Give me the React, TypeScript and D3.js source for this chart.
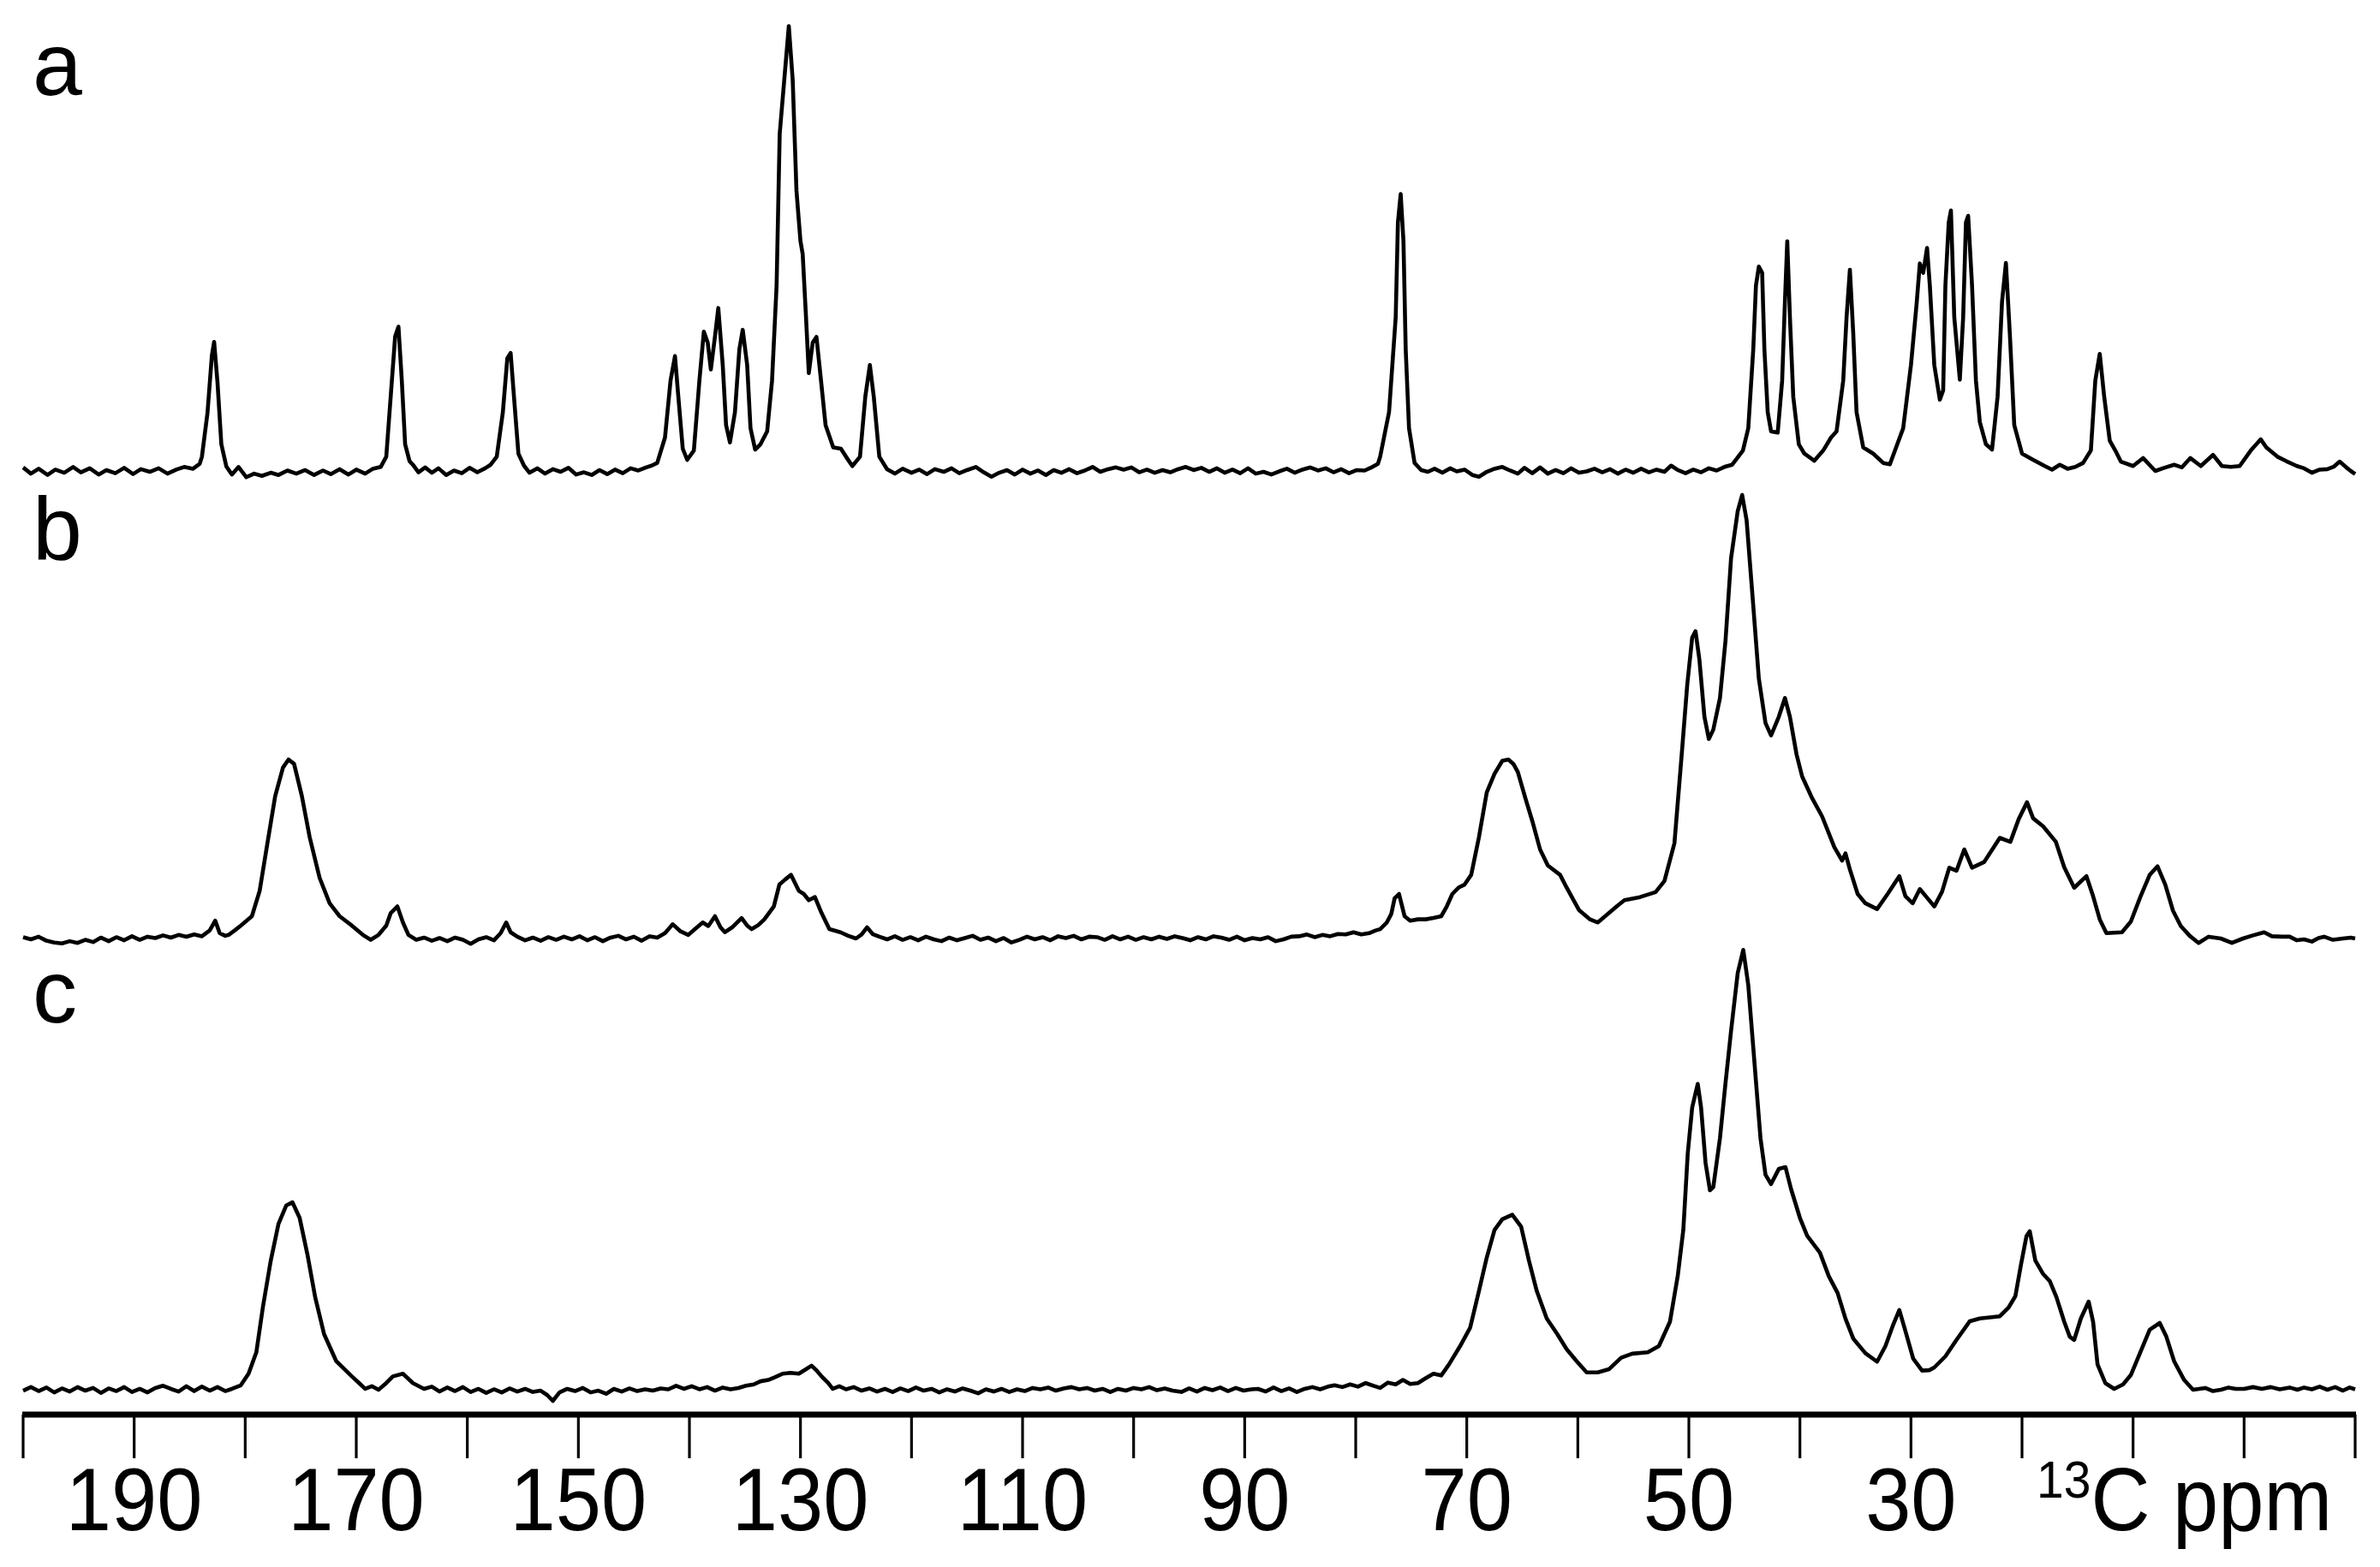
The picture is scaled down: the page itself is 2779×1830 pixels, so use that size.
import React from 'react';
import * as d3 from 'd3';

// 13C spectra, [ppm, intensity] (tallest peak of each trace ~100)
const spectrumA: [number, number][] = [
  [200.0, 0.8], [199.3, -0.6], [198.6, 0.5], [197.8, -0.9], [197.1, 0.3], [196.3, -0.4], [195.5, 0.9], [194.8, -0.3],
  [194.0, 0.6], [193.2, -0.8], [192.5, 0.2], [191.7, -0.5], [190.9, 0.7], [190.1, -0.7], [189.4, 0.4], [188.6, -0.2],
  [187.8, 0.6], [187.0, -0.6], [186.2, 0.3], [185.5, 0.9], [184.7, 0.5], [184.1, 1.6],
  [183.9, 3.2], [183.4, 13], [183.0, 26], [182.8, 29], [182.5, 20], [182.15, 6], [181.7, 1], [181.2, -0.8],
  [180.6, 0.9], [179.9, -1.4], [179.2, -0.6], [178.5, -1.1], [177.7, -0.4], [177.0, -0.9], [176.2, 0.1], [175.4, -0.6],
  [174.6, 0.2], [173.8, -0.9], [173.0, 0.1], [172.3, -0.7], [171.5, 0.4], [170.7, -0.8], [170.0, 0.3], [169.2, -0.6],
  [168.5, 0.5], [167.8, 0.9],
  [167.3, 3.2], [166.9, 16.7], [166.5, 30.2], [166.2, 32.4], [165.9, 20.3], [165.6, 6], [165.2, 2.2], [164.9, 1.4],
  [164.4, -0.3], [163.8, 0.8], [163.2, -0.4], [162.6, 0.6], [161.9, -0.9], [161.2, 0.1], [160.5, -0.5], [159.8, 0.7],
  [159.1, -0.3], [158.4, 0.6], [157.9, 1.4],
  [157.35, 3.2], [156.8, 13.2], [156.4, 25.3], [156.1, 26.5], [155.8, 16.7], [155.4, 3.9], [154.9, 1.2], [154.4, -0.4],
  [153.7, 0.6], [153.0, -0.6], [152.3, 0.4], [151.6, -0.2], [150.9, 0.7], [150.2, -0.8], [149.5, -0.3], [148.8, -0.9],
  [148.1, 0.2], [147.4, -0.7], [146.7, 0.3], [146.0, -0.5], [145.3, 0.6], [144.6, 0.1], [143.9, 0.8], [143.4, 1.2],
  [142.9, 1.8], [142.2, 7.5], [141.7, 20.3], [141.3, 25.8], [141.0, 16.7], [140.6, 5], [140.2, 2.5], [139.6, 4.6],
  [139.1, 20.3], [138.7, 31.3], [138.35, 28.8], [138.07, 22.8], [137.7, 30.2], [137.4, 36.6], [137.0, 23.8],
  [136.7, 10.3], [136.35, 6.4], [135.9, 13.2], [135.5, 27.4], [135.2, 31.7], [134.8, 23.8], [134.5, 9.6],
  [134.08, 4.8], [133.6, 6], [133.0, 8.9], [132.56, 20.3], [132.15, 41.6], [131.87, 75.7], [131.46, 87.8],
  [131.05, 99.9], [130.7, 87.8], [130.36, 62.9], [130.0, 51.6], [129.8, 48.7], [129.5, 34.5], [129.25, 22],
  [128.9, 28.8], [128.56, 30.1], [128.15, 20.3], [127.74, 10.3], [127.05, 5.3], [126.36, 5], [125.9, 3.2],
  [125.33, 1.1], [124.64, 3.2], [124.16, 16.7], [123.75, 23.8], [123.4, 16.7], [122.9, 3.2], [122.2, 0.4],
  [121.5, -0.6], [120.8, 0.5], [120.0, -0.4], [119.3, 0.3], [118.6, -0.7], [117.9, 0.4], [117.1, -0.2], [116.4, 0.6],
  [115.7, -0.5], [115.0, 0.2], [114.2, 0.9], [113.5, -0.3], [112.8, -1.3], [112.1, -0.4], [111.4, 0.2], [110.7, -0.8],
  [110.0, 0.3], [109.3, -0.6], [108.6, 0.1], [107.9, -0.9], [107.2, 0.2], [106.5, -0.4], [105.8, 0.4], [105.1, -0.5],
  [104.4, 0.1], [103.7, 0.9], [103.0, -0.2], [102.3, 0.4], [101.6, 0.8], [100.9, 0.3], [100.2, 0.8], [99.5, -0.3],
  [98.8, 0.3], [98.1, -0.4], [97.4, 0.2], [96.7, -0.3], [96.0, 0.4], [95.3, 0.9], [94.6, 0.2], [93.9, 0.7],
  [93.2, -0.2], [92.5, 0.6], [91.8, -0.4], [91.1, 0.3], [90.4, -0.5], [89.7, 0.6], [89.0, -0.6], [88.3, -0.2],
  [87.6, -0.8], [86.9, -0.1], [86.2, 0.5], [85.5, -0.4], [84.8, 0.3], [84.1, 0.8], [83.4, 0.1], [82.7, 0.6],
  [82.0, -0.3], [81.3, 0.4], [80.6, -0.5], [79.9, 0.2], [79.2, 0.1], [78.5, 0.9], [78.0, 1.6],
  [77.8, 3.2], [77.0, 13.2], [76.4, 34.5], [76.2, 55.8], [75.95, 62.2], [75.7, 51.6], [75.5, 27.4], [75.2, 9.6],
  [74.7, 1.8], [74.1, 0.2], [73.5, -0.2], [72.9, 0.5], [72.2, -0.4], [71.5, 0.6], [70.9, -0.1], [70.2, 0.3],
  [69.5, -0.9], [68.9, -1.3], [68.2, -0.2], [67.5, 0.5], [66.8, 0.9], [66.1, 0.1], [65.4, -0.6], [64.8, 0.7],
  [64.1, -0.5], [63.4, 0.8], [62.7, -0.6], [62.0, 0.2], [61.3, -0.5], [60.6, 0.6], [59.9, -0.4], [59.2, -0.1],
  [58.5, 0.5], [57.8, -0.3], [57.1, 0.4], [56.4, -0.6], [55.7, 0.3], [55.0, -0.4], [54.3, 0.5], [53.6, -0.3],
  [52.9, 0.3], [52.2, -0.2], [51.6, 1.2], [51.0, 0.2], [50.3, -0.5], [49.6, 0.3], [48.9, -0.3], [48.2, 0.6],
  [47.5, 0.1], [46.8, 0.9], [46.1, 1.4],
  [45.13, 4.6], [44.65, 9.6], [44.2, 27.4], [43.96, 41.6], [43.7, 45.9], [43.4, 44.5], [43.2, 27.4], [42.9, 13.2],
  [42.6, 8.9], [42.0, 8.6], [41.6, 20.3], [41.35, 38], [41.14, 51.6], [40.9, 34.5], [40.6, 16.7], [40.1, 6],
  [39.6, 3.9], [38.7, 2.3], [37.9, 4.6], [37.2, 7.5], [36.7, 8.9], [36.1, 20.3], [35.8, 34.5], [35.5, 45.2],
  [35.2, 31], [34.9, 13.2], [34.3, 5.3], [33.4, 3.9], [32.5, 1.8], [31.9, 1.5], [30.7, 9.6], [30.0, 23.8],
  [29.5, 37.3], [29.2, 46.6], [28.9, 44.5], [28.55, 50.1], [28.3, 41.6], [27.9, 23.8], [27.4, 16], [27.1, 18.1],
  [26.9, 41.6], [26.6, 55.8], [26.4, 58.5], [26.1, 34.5], [25.6, 20.5], [25.3, 34.5], [25.05, 55.8], [24.85, 57.3],
  [24.5, 41.6], [24.15, 20.3], [23.8, 11], [23.25, 6], [22.7, 4.8], [22.2, 16.7], [21.8, 38], [21.45, 46.7],
  [21.1, 31], [20.7, 10.3], [20.0, 3.9], [19.0, 2.5], [17.95, 1.1], [17.3, 0.3], [16.6, 1.4], [15.9, 0.5],
  [15.2, 0.9], [14.5, 1.8], [13.8, 4.6], [13.4, 20.3], [13.0, 26.3], [12.6, 16.7], [12.1, 6.8], [11.6, 4.6],
  [11.1, 2.1], [10.0, 1.1], [9.1, 2.9], [8.0, 0], [7.2, 0.7], [6.3, 1.4], [5.6, 0.8], [4.85, 2.9], [3.9, 1.1],
  [2.8, 3.6], [2.0, 1.1], [1.2, 0.9], [0.4, 1.1], [-0.6, 4.6], [-1.5, 7.1], [-2.0, 5.3], [-3.0, 3.2], [-3.8, 2.2],
  [-4.75, 1.1], [-5.4, 0.6], [-6.1, -0.4], [-6.8, 0.3], [-7.5, 0.4], [-8.1, 1.0], [-8.6, 2.1], [-9.2, 0.8],
  [-9.6, 0], [-10.0, -0.7],
];

const spectrumB: [number, number][] = [
  [200.0, 0.3], [199.3, -0.2], [198.6, 0.4], [197.9, -0.5], [197.2, -0.9], [196.5, -1.1], [195.8, -0.6], [195.1, -1.0],
  [194.4, -0.3], [193.7, -0.8], [193.0, 0.2], [192.3, -0.6], [191.6, 0.3], [190.9, -0.4], [190.2, 0.5], [189.5, -0.3],
  [188.8, 0.4], [188.1, 0.1], [187.4, 0.7], [186.7, 0.2], [186.0, 0.8], [185.3, 0.4], [184.6, 0.9], [183.9, 0.5],
  [183.2, 1.8], [182.7, 4], [182.3, 1.2], [181.8, 0.6], [181.5, 0.8], [180.9, 1.9], [180.4, 2.9], [179.4, 5],
  [178.7, 10.7], [178.0, 21.4], [177.3, 32], [176.6, 38.4], [176.1, 40.2], [175.6, 39.2], [174.9, 32], [174.2, 22.8],
  [173.3, 13.6], [172.4, 7.9], [171.5, 5], [170.4, 2.9], [169.4, 0.8], [168.7, -0.3], [168.0, 0.8], [167.3, 2.9],
  [166.9, 5.7], [166.3, 7.2], [165.8, 3.6], [165.3, 0.8], [164.6, -0.3], [163.9, 0.2], [163.2, -0.5], [162.5, 0.1],
  [161.8, -0.6], [161.1, 0.2], [160.4, -0.3], [159.7, -1.2], [159.0, -0.2], [158.3, 0.3], [157.6, -0.4], [157.0, 1.2],
  [156.5, 3.6], [156.1, 1.4], [155.5, 0.4], [154.8, -0.4], [154.1, 0.2], [153.4, -0.5], [152.7, 0.3], [152.0, -0.3],
  [151.3, 0.4], [150.6, -0.2], [149.9, 0.5], [149.2, -0.4], [148.5, 0.3], [147.8, -0.6], [147.1, 0.2], [146.4, 0.6],
  [145.7, -0.2], [145.0, 0.4], [144.3, -0.5], [143.6, 0.5], [142.9, 0.2], [142.2, 1.2], [141.5, 3.2], [140.8, 1.6],
  [140.1, 0.8], [139.5, 2.1], [138.8, 3.6], [138.3, 2.8], [137.7, 5], [137.2, 2.5], [136.8, 1.4], [136.1, 2.6],
  [135.3, 4.6], [134.8, 2.9], [134.4, 2.1], [133.8, 3.0], [133.25, 4.3], [132.4, 7.2], [131.9, 12.1], [131.4, 13.2],
  [130.85, 14.3], [130.5, 12.5], [130.15, 10.7], [129.7, 10], [129.25, 8.6], [128.7, 9.3], [128.1, 5.7], [127.4, 2.1],
  [126.4, 1.4], [125.7, 0.6], [125.0, 0], [124.5, 0.9], [124.0, 2.5], [123.5, 1.0], [122.9, 0.4], [122.2, -0.2],
  [121.5, 0.5], [120.8, -0.3], [120.1, 0.3], [119.4, -0.4], [118.7, 0.4], [118.0, -0.2], [117.3, -0.6], [116.6, 0.2],
  [115.9, -0.4], [115.2, 0.1], [114.5, 0.6], [113.8, -0.3], [113.1, 0.2], [112.4, -0.6], [111.7, 0.1], [111.0, -0.9],
  [110.3, -0.3], [109.6, 0.4], [108.9, -0.2], [108.2, 0.3], [107.5, -0.4], [106.8, 0.5], [106.1, 0.1], [105.4, 0.6],
  [104.7, -0.2], [104.0, 0.4], [103.3, 0.3], [102.6, -0.3], [101.9, 0.5], [101.2, -0.2], [100.5, 0.4], [99.8, -0.3],
  [99.1, 0.3], [98.4, -0.2], [97.7, 0.4], [97.0, -0.1], [96.3, 0.5], [95.6, 0.1], [94.9, -0.4], [94.2, 0.3],
  [93.5, -0.2], [92.8, 0.5], [92.1, 0.2], [91.4, -0.3], [90.7, 0.4], [90.0, -0.4], [89.3, 0.1], [88.6, -0.2],
  [87.9, 0.3], [87.2, -0.6], [86.5, -0.2], [85.8, 0.4], [85.1, 0.5], [84.4, 0.9], [83.7, 0.3], [83.0, 0.8],
  [82.3, 0.5], [81.6, 1.0], [80.9, 0.9], [80.2, 1.4], [79.5, 0.9], [78.8, 1.2], [78.2, 1.8], [77.8, 2.1],
  [77.2, 3.6], [76.8, 5.5], [76.5, 9.0], [76.1, 10], [75.8, 7.0], [75.6, 5], [75.1, 4], [74.4, 4.3], [73.7, 4.3],
  [73.0, 4.6], [72.3, 5], [71.8, 7.2], [71.3, 10], [70.7, 11.5], [70.2, 12.1], [69.6, 14.3], [68.9, 22.8],
  [68.2, 32.8], [67.5, 37], [66.8, 39.9], [66.25, 40.2], [65.8, 39.2], [65.4, 37.4], [64.7, 31.3], [64.1, 26.4],
  [63.4, 20], [62.7, 16.4], [61.6, 14.3], [61.0, 11.4], [59.9, 6.4], [58.9, 4.3], [58.2, 3.6], [57.2, 5.7],
  [56.5, 7.2], [55.8, 8.6], [54.4, 9.3], [53.0, 10.4], [52.2, 12.9], [51.3, 21.4], [50.6, 42.7], [50.15, 56.9],
  [49.7, 67.6], [49.4, 69], [49.05, 62.6], [48.6, 49.8], [48.2, 44.8], [47.8, 46.9], [47.2, 54], [46.7, 66.9],
  [46.2, 85.4], [45.6, 96], [45.2, 99.6], [44.8, 93.9], [44.2, 74.7], [43.7, 58.4], [43.1, 48.4], [42.6, 45.6],
  [41.9, 49.8], [41.35, 54], [40.9, 49.8], [40.3, 41.3], [39.8, 36.4], [38.9, 31.5], [38.0, 27.4], [36.9, 20.5],
  [36.2, 17.5], [35.9, 19.1], [35.5, 15.5], [34.8, 10], [34.1, 7.9], [33.05, 6.6], [32.1, 10], [31.05, 14],
  [30.5, 9.5], [29.85, 7.9], [29.2, 11.1], [28.6, 9.3], [27.9, 7.2], [27.2, 10.5], [26.55, 15.9], [25.9, 15.2],
  [25.2, 20], [24.5, 15.9], [23.4, 17.2], [22.0, 22.6], [21.05, 21.7], [20.3, 26.8], [19.55, 30.6], [19.0, 27],
  [18.1, 25.2], [16.95, 21.7], [16.2, 16], [15.3, 11.4], [14.2, 14], [13.6, 9.5], [13.0, 4.3], [12.4, 1.2],
  [11.0, 1.4], [10.2, 3.8], [9.35, 9.3], [8.5, 14.3], [7.8, 16.2], [7.1, 12.1], [6.4, 6.2], [5.7, 2.8],
  [4.9, 0.6], [4.1, -1.0], [3.2, 0.4], [2.1, 0], [1.1, -1.0], [0.1, 0], [-0.8, 0.7], [-1.8, 1.4], [-2.5, 0.5],
  [-3.4, 0.4], [-4.1, 0.4], [-4.75, -0.4], [-5.4, -0.2], [-6.1, -0.7], [-6.7, 0.1], [-7.2, 0.4], [-8.0, -0.3],
  [-8.9, 0], [-9.6, 0.2], [-10.0, 0],
];

const spectrumC: [number, number][] = [
  [200.0, -0.2], [199.3, 0.6], [198.6, -0.3], [197.9, 0.5], [197.2, -0.6], [196.5, 0.3], [195.8, -0.4], [195.1, 0.6],
  [194.4, -0.2], [193.7, 0.4], [193.0, -0.7], [192.3, 0.3], [191.6, -0.3], [190.9, 0.6], [190.2, -0.5], [189.5, 0.2],
  [188.8, -0.6], [188.1, 0.4], [187.4, 0.9], [186.7, 0.2], [186.0, -0.4], [185.3, 0.8], [184.6, -0.3], [183.9, 0.7],
  [183.2, -0.2], [182.5, 0.6], [181.8, -0.3], [181.2, 0.2], [180.4, 1.0], [179.7, 3.6], [179.0, 8.4], [178.4, 18.7],
  [177.7, 29], [177.0, 37.3], [176.3, 41.4], [175.75, 42.1], [175.1, 38.6], [174.4, 30.4], [173.7, 20.8],
  [172.9, 12.5], [171.8, 6.4], [170.4, 3], [169.7, 1.4], [169.2, 0.2], [168.6, 0.8], [168.0, 0], [167.3, 1.5],
  [166.7, 3.0], [165.8, 3.6], [164.9, 1.5], [163.9, 0.2], [163.2, 0.7], [162.5, -0.4], [161.8, 0.5], [161.1, -0.3],
  [160.4, 0.6], [159.7, -0.5], [159.0, 0.2], [158.3, -0.7], [157.6, 0.1], [156.9, -0.6], [156.2, 0.3], [155.5, -0.4],
  [154.8, 0.2], [154.1, -0.5], [153.4, -0.2], [152.8, -1.2], [152.3, -2.5], [151.7, -0.6], [151.0, 0.2],
  [150.3, -0.3], [149.6, 0.4], [148.9, -0.6], [148.2, -0.2], [147.5, -0.9], [146.8, 0.2], [146.1, -0.4], [145.4, 0.3],
  [144.7, -0.3], [144.0, 0.1], [143.3, -0.2], [142.6, 0.3], [141.9, 0.1], [141.2, 0.9], [140.5, 0.2], [139.8, 0.8],
  [139.1, 0.1], [138.4, 0.6], [137.7, -0.2], [137.0, 0.5], [136.3, 0.1], [135.6, 0.4], [134.9, 0.9], [134.2, 1.2],
  [133.6, 1.9], [132.9, 2.2], [132.3, 2.8], [131.6, 3.6], [130.9, 3.8], [130.15, 3.6], [129.5, 4.6], [129.0, 5.4],
  [128.5, 4.2], [128.1, 3], [127.5, 1.5], [127.1, 0.2], [126.5, 0.8], [125.9, 0.1], [125.2, 0.6], [124.5, -0.2],
  [123.8, 0.3], [123.1, -0.4], [122.4, 0.2], [121.7, -0.5], [121.0, 0.3], [120.3, -0.3], [119.6, 0.5], [118.9, -0.2],
  [118.2, 0.2], [117.5, -0.6], [116.8, 0.1], [116.1, -0.4], [115.4, 0.3], [114.7, -0.2], [114.0, -0.8], [113.3, 0.1],
  [112.6, -0.4], [111.9, 0.2], [111.2, -0.5], [110.5, 0.1], [109.8, -0.3], [109.1, 0.4], [108.4, 0.1], [107.7, 0.5],
  [107.0, -0.2], [106.3, 0.3], [105.6, 0.6], [104.9, 0.1], [104.2, 0.4], [103.5, -0.2], [102.8, 0.2], [102.1, -0.5],
  [101.4, 0.2], [100.7, -0.2], [100.0, 0.4], [99.3, 0.1], [98.6, 0.6], [97.9, -0.1], [97.2, 0.3], [96.5, -0.2],
  [95.7, -0.5], [95.0, 0.3], [94.3, -0.4], [93.6, 0.4], [92.9, -0.1], [92.2, 0.5], [91.5, -0.3], [90.8, 0.4],
  [90.1, -0.2], [89.4, 0.1], [88.8, 0.2], [88.1, -0.4], [87.4, 0.5], [86.7, -0.3], [86.0, 0.3], [85.3, -0.5],
  [84.6, 0.2], [83.9, 0.6], [83.2, 0.1], [82.5, 0.7], [81.9, 1.0], [81.2, 0.6], [80.5, 1.2], [79.8, 0.7],
  [79.1, 1.5], [78.4, 0.9], [77.8, 0.4], [77.1, 1.6], [76.4, 1.2], [75.75, 2.2], [75.1, 1.3], [74.4, 1.5],
  [73.7, 2.6], [73.0, 3.6], [72.3, 3.2], [71.6, 5.7], [70.6, 9.8], [69.7, 13.9], [68.9, 22.2], [68.2, 29.7],
  [67.5, 35.9], [66.8, 38.3], [65.9, 39.3], [65.1, 36.6], [64.4, 29], [63.7, 22.2], [62.8, 16], [61.85, 12.5],
  [61.0, 9.1], [60.1, 6.4], [59.2, 3.9], [58.2, 3.9], [57.2, 4.6], [56.1, 7.2], [55.1, 8.1], [53.7, 8.4],
  [52.7, 9.8], [51.7, 15.3], [51.0, 25.6], [50.5, 35.9], [50.1, 53.1], [49.7, 63.4], [49.2, 68.7], [48.9, 63.4],
  [48.5, 51], [48.1, 44.8], [47.8, 45.5], [47.2, 56.5], [46.7, 68.9], [46.2, 80.6], [45.6, 93.6], [45.1, 98.8],
  [44.65, 90.9], [44.1, 73.7], [43.55, 56.5], [43.1, 48.3], [42.6, 46.2], [41.9, 49.6], [41.3, 50], [40.8, 45.1],
  [40.0, 38.6], [39.35, 34.6], [38.2, 30.8], [37.4, 25.5], [36.6, 21.7], [35.9, 16], [35.2, 11.5], [34.1, 8.2],
  [33.05, 6.3], [32.3, 9.8], [31.6, 14.6], [31.05, 17.9], [30.5, 13.2], [29.8, 7.0], [29.0, 4.3], [28.35, 4.4],
  [27.9, 5], [26.9, 7.5], [25.9, 11.2], [24.7, 15.4], [23.8, 16], [22.0, 16.5], [21.2, 18.5], [20.6, 21],
  [20.1, 28], [19.6, 34.5], [19.3, 35.6], [18.8, 29], [18.1, 26], [17.5, 24.4], [16.9, 20.8], [16.2, 15.3],
  [15.7, 11.9], [15.3, 11.2], [14.7, 16], [14.0, 19.8], [13.6, 15.3], [13.2, 5.7], [12.5, 1.5], [11.7, 0.2],
  [10.9, 1.2], [10.2, 3.3], [9.35, 8.4], [8.5, 13.5], [7.6, 15], [7.0, 11.9], [6.3, 6.4], [5.4, 2.2], [4.6, 0],
  [3.5, 0.4], [2.8, -0.3], [2.1, 0], [1.4, 0.5], [0.75, 0.2], [0, 0.2], [-0.8, 0.6], [-1.6, 0.2], [-2.4, 0.6],
  [-3.2, 0.1], [-4.1, 0.5], [-4.8, 0.0], [-5.4, 0.5], [-6.1, 0.1], [-6.8, 0.7], [-7.5, 0.0], [-8.2, 0.6],
  [-8.9, -0.2], [-9.5, 0.5], [-10.0, 0.1],
];

const traceNames = ['a', 'b', 'c'];
const traces = [spectrumA, spectrumB, spectrumC];
const tickValues = [200, 190, 180, 170, 160, 150, 140, 130, 120, 110, 100, 90, 80, 70, 60, 50, 40, 30, 20, 10, 0, -10];
const labelValues = [190, 170, 150, 130, 110, 90, 70, 50, 30];

const W = 2779;
const H = 1830;
const baselines = [550, 1096, 1623];
const letterY = [111, 653, 1194];
const font = '"Liberation Sans", Arial, Helvetica, sans-serif';

export default function App() {
  const x = d3.scaleLinear().domain([200, -10]).range([27, 2750]);
  const y = d3.scaleLinear().domain([0, 100]).range([0, -520]);
  const axisY = 1652;

  return (
    <svg width={W} height={H} style={{ position: 'absolute', left: 0, top: 0, background: '#fff' }}>
      <rect width={W} height={H} fill="#fff" />
      {traces.map((tr, i) => {
        const line = d3
          .line<[number, number]>()
          .x(d => x(d[0]))
          .y(d => baselines[i] + y(d[1]));
        return (
          <g key={traceNames[i]}>
            <path d={line(tr) || ''} fill="none" stroke="#000" strokeWidth={4.6} strokeLinejoin="round" />
            <text x={38} y={letterY[i]} fontFamily={font} fontSize={104} fill="#000">
              {traceNames[i]}
            </text>
          </g>
        );
      })}

      <line x1={x(200) - 1} x2={x(-10) + 1} y1={axisY} y2={axisY} stroke="#000" strokeWidth={7} />
      {tickValues.map(t => (
        <line key={t} x1={x(t)} x2={x(t)} y1={axisY} y2={1703} stroke="#000" strokeWidth={3.2} />
      ))}
      {labelValues.map(t => (
        <text
          key={t}
          transform={`translate(${x(t)},1787) scale(0.92,1)`}
          textAnchor="middle"
          fontFamily={font}
          fontSize={104}
          fill="#000"
        >
          {t}
        </text>
      ))}
      <text transform="translate(2378,1787) scale(0.92,1)" fontFamily={font} fill="#000">
        <tspan fontSize={62} dy={-38}>13</tspan>
        <tspan fontSize={104} dy={38}>C ppm</tspan>
      </text>
    </svg>
  );
}
